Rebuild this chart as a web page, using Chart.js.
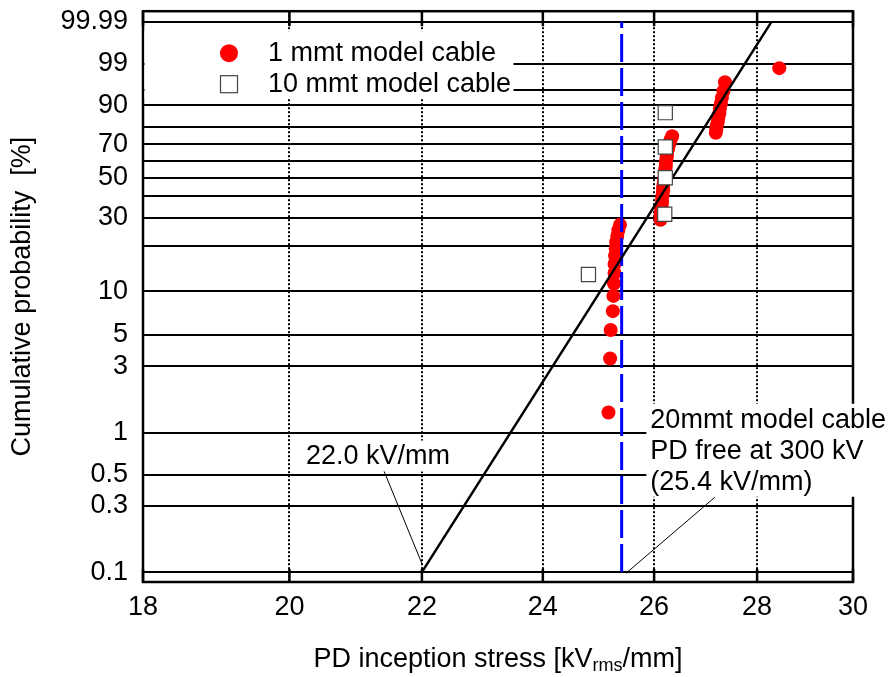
<!DOCTYPE html>
<html>
<head>
<meta charset="utf-8">
<script src="https://cdn.jsdelivr.net/npm/chart.js@4.4.1/dist/chart.umd.min.js"></script>
<style>
  html, body { margin: 0; padding: 0; background: #fff; }
</style>
</head>
<body>
<canvas id="chart" width="889" height="677"></canvas>
<script>
// ---- data ----
// 1 mmt model cable: PD inception stress [kV/mm] and cumulative probability [%]
var pd1mm = [25.16, 25.19, 25.20, 25.24, 25.25, 25.26, 25.27, 25.27, 25.28, 25.29,
             25.30, 25.32, 25.34, 25.37, 26.12, 26.12, 26.13, 26.14, 26.15, 26.15,
             26.16, 26.17, 26.17, 26.18, 26.19, 26.20, 26.20, 26.21, 26.22, 26.22,
             26.23, 26.24, 26.24, 26.26, 26.27, 26.29, 26.31, 26.34, 27.18, 27.19,
             27.20, 27.22, 27.23, 27.25, 27.26, 27.28, 27.30, 27.33, 27.36, 28.45];
var p1mm = [1.4, 3.4, 5.4, 7.3, 9.3, 11.3, 13.3, 15.3, 17.3, 19.2,
            21.2, 23.2, 25.2, 27.2, 29.2, 31.2, 33.1, 35.1, 37.1, 39.1,
            41.1, 43.1, 45.0, 47.0, 49.0, 51.0, 53.0, 55.0, 56.9, 58.9,
            60.9, 62.9, 64.9, 66.9, 68.8, 70.8, 72.8, 74.8, 76.8, 78.8,
            80.8, 82.7, 84.7, 86.7, 88.7, 90.7, 92.7, 94.6, 96.6, 98.6];

// 10 mmt model cable
var pd10mm = [24.80, 26.20, 26.21, 26.21, 26.21];
var p10mm = [13.0, 31.5, 50.0, 68.5, 87.0];

// Weibull fit line
var fitX = [22.0, 28.29];
var fitP = [0.1, 99.99];

// 20mmt model cable, PD free at 300 kV
var pdFreeX = [25.4, 25.4];
var pdFreeP = [0.1, 99.99];

// axes
var xTicks = [18, 20, 22, 24, 26, 28, 30];
var gridP = [0.1, 0.3, 0.5, 1, 3, 5, 10, 20, 30, 40, 50, 60, 70, 80, 90, 95, 99, 99.99];
var gridLabels = ['0.1', '0.3', '0.5', '1', '3', '5', '10', '', '30', '', '50', '', '70', '', '90', '', '99', '99.99'];
var yRangeP = [0.0848, 99.9983];

var legendLabels = ['1 mmt model cable', '10 mmt model cable'];
var yTitle = 'Cumulative probability  [%]';
var xTitle = ['PD inception stress [kV', 'rms', '/mm]'];

var notes = [
    { lines: ['22.0 kV/mm'], x: 20.24, p: 0.594, from: [21.41, 0.53], to: [22.0, 0.115] },
    { lines: ['20mmt model cable', 'PD free at 300 kV', '(25.4 kV/mm)'], x: 25.93, p: 1.09,
      from: [27.16, 0.345], to: [25.48, 0.098] }
];

var FONT = "'Liberation Sans', Arial, sans-serif";

// Weibull probability axis: y = ln(-ln(1 - F))
function weib(p) {
    return Math.log(-Math.log(1 - p / 100));
}

function pts(xs, ps) {
    return xs.map(function (x, i) { return { x: x, y: weib(ps[i]) }; });
}

// frame round the plot and inward ticks on the x axis
var framePlugin = {
    id: 'frame',
    beforeDatasetsDraw: function (chart) {
        var a = chart.chartArea, ctx = chart.ctx, xs = chart.scales.x;
        ctx.save();
        ctx.strokeStyle = '#000';
        ctx.lineWidth = 2.5;
        xTicks.forEach(function (v) {
            var px = xs.getPixelForValue(v);
            ctx.beginPath();
            ctx.moveTo(px, a.bottom);
            ctx.lineTo(px, a.bottom - 13);
            ctx.moveTo(px, a.top);
            ctx.lineTo(px, a.top + 15);
            ctx.stroke();
        });
        ctx.strokeRect(a.left, a.top, a.right - a.left, a.bottom - a.top);
        ctx.restore();
    }
};

// legend inside the plot, top left
var legendPlugin = {
    id: 'boxLegend',
    afterDatasetsDraw: function (chart) {
        var a = chart.chartArea, ctx = chart.ctx;
        var ds = chart.data.datasets;
        ctx.save();
        ctx.fillStyle = '#fff';
        ctx.fillRect(a.left + 1.5, a.top + 20, 369, 67);
        var rows = [a.top + 42, a.top + 73];
        var sx = a.left + 86, tx = a.left + 125;
        // red circle
        ctx.fillStyle = ds[0].backgroundColor;
        ctx.beginPath();
        ctx.arc(sx, rows[0], 9, 0, Math.PI * 2);
        ctx.fill();
        // open square
        ctx.fillStyle = '#fff';
        ctx.strokeStyle = ds[1].borderColor;
        ctx.lineWidth = 1.2;
        ctx.fillRect(sx - 8.5, rows[1] - 8.5, 17, 17);
        ctx.strokeRect(sx - 8.5, rows[1] - 8.5, 17, 17);
        ctx.fillStyle = '#000';
        ctx.font = '27px ' + FONT;
        ctx.textBaseline = 'middle';
        ctx.textAlign = 'left';
        ctx.fillText(legendLabels[0], tx, rows[0]);
        ctx.fillText(legendLabels[1], tx, rows[1]);
        ctx.restore();
    }
};

// text notes with leader lines
var notePlugin = {
    id: 'notes',
    afterDatasetsDraw: function (chart) {
        var ctx = chart.ctx, xs = chart.scales.x, ys = chart.scales.y;
        ctx.save();
        ctx.font = '27px ' + FONT;
        ctx.textBaseline = 'alphabetic';
        ctx.textAlign = 'left';
        notes.forEach(function (n) {
            var px = xs.getPixelForValue(n.x);
            var py = ys.getPixelForValue(weib(n.p));
            var w = 0;
            n.lines.forEach(function (t) { w = Math.max(w, ctx.measureText(t).width); });
            ctx.fillStyle = '#fff';
            ctx.fillRect(px - 4, py - 24, w + 8, (n.lines.length - 1) * 31 + 31);
            ctx.strokeStyle = '#000';
            ctx.lineWidth = 1;
            ctx.beginPath();
            ctx.moveTo(xs.getPixelForValue(n.from[0]), ys.getPixelForValue(weib(n.from[1])));
            ctx.lineTo(xs.getPixelForValue(n.to[0]), ys.getPixelForValue(weib(n.to[1])));
            ctx.stroke();
            ctx.fillStyle = '#000';
            n.lines.forEach(function (t, i) { ctx.fillText(t, px, py + i * 31); });
        });
        ctx.restore();
    }
};

// x axis title with subscript
var xTitlePlugin = {
    id: 'xTitle',
    afterDraw: function (chart) {
        var a = chart.chartArea, ctx = chart.ctx;
        var parts = [[xTitle[0], 27, 0], [xTitle[1], 18, 4], [xTitle[2], 27, 0]];
        ctx.save();
        ctx.fillStyle = '#000';
        ctx.textBaseline = 'alphabetic';
        ctx.textAlign = 'left';
        var total = 0;
        parts.forEach(function (p) {
            ctx.font = p[1] + 'px ' + FONT;
            p.push(ctx.measureText(p[0]).width);
            total += p[3];
        });
        var x = (a.left + a.right) / 2 - total / 2;
        var base = a.bottom + 85;
        parts.forEach(function (p) {
            ctx.font = p[1] + 'px ' + FONT;
            ctx.fillText(p[0], x, base + p[2]);
            x += p[3];
        });
        ctx.restore();
    }
};

new Chart(document.getElementById('chart'), {
    type: 'scatter',
    data: {
        datasets: [
            {
                label: legendLabels[0],
                data: pts(pd1mm, p1mm),
                pointStyle: 'circle',
                pointRadius: 7,
                backgroundColor: '#ff0000',
                borderColor: '#ff0000',
                borderWidth: 0,
                order: 4
            },
            {
                label: legendLabels[1],
                data: pts(pd10mm, p10mm),
                pointStyle: 'rect',
                pointRadius: 10,
                backgroundColor: '#ffffff',
                borderColor: '#444444',
                borderWidth: 1.2,
                order: 1
            },
            {
                label: 'Weibull fit',
                data: pts(fitX, fitP),
                showLine: true,
                borderColor: '#000000',
                borderWidth: 2.5,
                pointRadius: 0,
                order: 2
            },
            {
                label: '20mmt model cable',
                data: pts(pdFreeX, pdFreeP),
                showLine: true,
                borderColor: '#0000ff',
                borderWidth: 3,
                borderDash: [28, 6],
                pointRadius: 0,
                order: 3
            }
        ]
    },
    options: {
        responsive: false,
        animation: false,
        devicePixelRatio: 1,
        layout: { padding: { left: 6, right: 36, top: 10, bottom: 45 } },
        plugins: {
            legend: { display: false },
            tooltip: { enabled: false }
        },
        scales: {
            x: {
                type: 'logarithmic',
                min: 18,
                max: 30,
                afterBuildTicks: function (scale) {
                    scale.ticks = xTicks.map(function (v) { return { value: v }; });
                },
                afterFit: function (scale) {
                    scale.height = 50;
                    scale.paddingLeft = 0;
                    scale.paddingRight = 0;
                },
                ticks: {
                    autoSkip: false,
                    maxRotation: 0,
                    padding: 9,
                    color: '#000',
                    font: { family: FONT, size: 27 },
                    callback: function (v) { return String(v); }
                },
                grid: { color: '#000', lineWidth: 2, drawTicks: false },
                border: { display: false, dash: [2, 2] }
            },
            y: {
                type: 'linear',
                min: weib(yRangeP[0]),
                max: weib(yRangeP[1]),
                afterBuildTicks: function (scale) {
                    scale.ticks = gridP.map(function (p) { return { value: weib(p) }; });
                },
                afterFit: function (scale) {
                    scale.width = 137;
                    scale.paddingTop = 0;
                    scale.paddingBottom = 0;
                },
                ticks: {
                    autoSkip: false,
                    padding: 15,
                    color: '#000',
                    font: { family: FONT, size: 27 },
                    callback: function (v, i) { return gridLabels[i]; }
                },
                grid: { color: '#000', lineWidth: 2, drawTicks: false },
                border: { display: false },
                title: {
                    display: true,
                    text: yTitle,
                    color: '#000',
                    font: { family: FONT, size: 27 },
                    padding: 0
                }
            }
        }
    },
    plugins: [framePlugin, legendPlugin, notePlugin, xTitlePlugin]
});
</script>
</body>
</html>
